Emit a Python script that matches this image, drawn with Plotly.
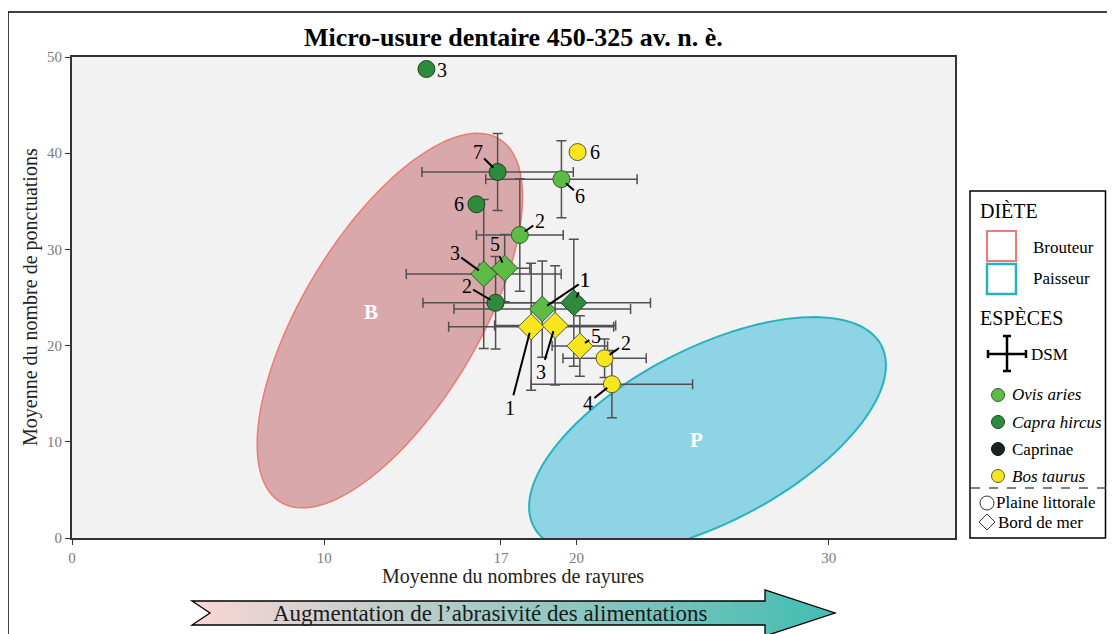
import numpy as np
import plotly.graph_objects as go

# ---------------- data ----------------
X_TICKS = [0, 10, 17, 20, 30]
Y_TICKS = [0, 10, 20, 30, 40, 50]

ovis_labels = ["6", "2", "3", "5", "1"]
ovis_site = ["P", "P", "M", "M", "M"]          # P = Plaine littorale, M = Bord de mer
ovis_x = [19.4, 17.75, 16.32, 17.15, 18.64]
ovis_y = [37.3, 31.5, 27.45, 28.05, 23.8]
ovis_xerr = [3.0, 1.72, 3.07, 1.0, 3.5]
ovis_yerr = [4.0, 5.85, 7.75, 3.5, 5.0]

capra_labels = ["3", "7", "6", "2", "1"]
capra_site = ["P", "P", "P", "P", "M"]
capra_x = [14.05, 16.87, 16.03, 16.79, 19.89]
capra_y = [48.75, 38.05, 34.69, 24.45, 24.45]
capra_xerr = [None, 3.0, None, 2.88, 3.04]
capra_yerr = [None, 4.0, None, 4.8, 6.6]

bos_labels = ["6", "2", "4", "5", "1", "3"]
bos_site = ["P", "P", "P", "M", "M", "M"]
bos_x = [20.04, 21.11, 21.4, 20.13, 18.2, 19.15]
bos_y = [40.12, 18.68, 15.99, 19.96, 21.95, 22.1]
bos_xerr = [None, 1.65, 3.2, 1.1, 3.27, 2.4]
bos_yerr = [None, 2.0, 3.5, 3.15, 6.6, 6.2]

# label offsets (pixels): dx, dy, leader line
ovis_lab = [(19, 17, True), (20, -14, True), (-29, -21, True), (-10, -24, True), (43, -29, True)]
capra_lab = [(16, 1, False), (-20, -20, True), (-17, 0, False), (-29, -17, True), (11, -23, True)]
bos_lab = [(17, 0, False), (21, -15, True), (-24, 19, True), (16, -10, True), (-21, 81, True), (-14, 47, True)]

X_RANGE = [0, 35]
Y_RANGE = [0, 50]

# ellipses (centre in data units, semi-axes in pixels, angle in degrees)
ELL_B = dict(cx=12.6, cy=22.6, a=212, b=88, ang=59.0)
ELL_P = dict(cx=25.19, cy=10.6, a=196, b=87, ang=27.5)

# ---------------- geometry helpers ----------------
OFF = 8                      # page body margin
W, H = 1115 - OFF, 634 - OFF
L, R, T, B = 72, 955, 57, 538   # plot area in window pixels
SERIF = "Liberation Serif"


def px(x):
    return (x - L) / (R - L)


def py(y):
    return (B - y) / (B - T)


def d2p(xd, yd):
    return (L + (xd - X_RANGE[0]) / (X_RANGE[1] - X_RANGE[0]) * (R - L),
            B - (yd - Y_RANGE[0]) / (Y_RANGE[1] - Y_RANGE[0]) * (B - T))


def p2d(xp, yp):
    return (X_RANGE[0] + (xp - L) / (R - L) * (X_RANGE[1] - X_RANGE[0]),
            Y_RANGE[0] + (B - yp) / (B - T) * (Y_RANGE[1] - Y_RANGE[0]))


def ellipse_path(e):
    cxp, cyp = d2p(e["cx"], e["cy"])
    th = np.radians(e["ang"])
    t = np.linspace(0, 2 * np.pi, 120)
    xp = cxp + e["a"] * np.cos(t) * np.cos(th) - e["b"] * np.sin(t) * np.sin(th)
    yp = cyp - (e["a"] * np.cos(t) * np.sin(th) + e["b"] * np.sin(t) * np.cos(th))
    pts = [p2d(a, b) for a, b in zip(xp, yp)]
    return "M " + " L ".join(f"{a:.4f},{b:.4f}" for a, b in pts) + " Z"


def ppath(points, close=True):
    s = "M " + " L ".join(f"{px(a):.5f},{py(b):.5f}" for a, b in points)
    return s + (" Z" if close else "")


fig = go.Figure()

species = [
    ("ovis", ovis_x, ovis_y, ovis_xerr, ovis_yerr, ovis_site, ovis_labels, ovis_lab, "#5DBB46", "#2E5E2A"),
    ("capra", capra_x, capra_y, capra_xerr, capra_yerr, capra_site, capra_labels, capra_lab, "#2F8A3E", "#1B4521"),
    ("bos", bos_x, bos_y, bos_xerr, bos_yerr, bos_site, bos_labels, bos_lab, "#F7E61E", "#5A5A3A"),
]

annotations = []

# error bars first (drawn beneath markers)
for name, xs, ys, xe, ye, site, labs, offs, col, edge in species:
    idx = [i for i in range(len(xs)) if xe[i] is not None]
    if idx:
        fig.add_trace(go.Scatter(
            x=[xs[i] for i in idx], y=[ys[i] for i in idx], mode="markers",
            marker=dict(size=1, color="rgba(0,0,0,0)"),
            error_x=dict(type="data", array=[xe[i] for i in idx], color="#505050", thickness=1.5, width=5),
            error_y=dict(type="data", array=[ye[i] for i in idx], color="#505050", thickness=1.5, width=5),
            showlegend=False, hoverinfo="skip"))

for name, xs, ys, xe, ye, site, labs, offs, col, edge in species:
    for sym, code, size in [("P", "circle", 17), ("M", "diamond", 20)]:
        idx = [i for i in range(len(xs)) if site[i] == sym]
        if not idx:
            continue
        fig.add_trace(go.Scatter(
            x=[xs[i] for i in idx], y=[ys[i] for i in idx], mode="markers",
            marker=dict(symbol=code, size=size, color=col, line=dict(color=edge, width=1)),
            showlegend=False))
    for i in range(len(xs)):
        dx, dy, lead = offs[i]
        if lead:
            annotations.append(dict(x=xs[i], y=ys[i], xref="x", yref="y", text=labs[i],
                                    showarrow=True, arrowhead=0, arrowwidth=2, arrowcolor="black",
                                    ax=dx, ay=dy, standoff=6,
                                    font=dict(family=SERIF, size=20, color="black")))
        else:
            annotations.append(dict(x=xs[i], y=ys[i], xref="x", yref="y", text=labs[i],
                                    showarrow=False, xshift=dx, yshift=-dy,
                                    font=dict(family=SERIF, size=20, color="black")))

shapes = []
# ellipses
shapes.append(dict(type="path", xref="x", yref="y", path=ellipse_path(ELL_B), layer="below",
                   fillcolor="#D9A8AB", line=dict(color="#EC7B73", width=1.5)))
shapes.append(dict(type="path", xref="x", yref="y", path=ellipse_path(ELL_P), layer="below",
                   fillcolor="#8FD4E5", line=dict(color="#27B3BD", width=2)))

annotations.append(dict(x=ELL_B["cx"] - 0.75, y=ELL_B["cy"] + 0.9, xref="x", yref="y", text="<b>B</b>",
                        showarrow=False, font=dict(family=SERIF, size=21, color="white")))
annotations.append(dict(x=ELL_P["cx"] - 0.45, y=ELL_P["cy"] - 0.4, xref="x", yref="y", text="<b>P</b>",
                        showarrow=False, font=dict(family=SERIF, size=21, color="white")))


def ptext(x, y, txt, size, color="#1a1a1a", anchor="center", angle=0):
    annotations.append(dict(x=px(x), y=py(y), xref="paper", yref="paper", text=txt, showarrow=False,
                            xanchor=anchor, yanchor="middle", textangle=angle,
                            font=dict(family=SERIF, size=size, color=color)))


# title and axis titles
ptext(513, 37, "<b>Micro-usure dentaire 450-325 av. n. è.</b>", 26, "black")
ptext(513, 576, "Moyenne du nombres de rayures", 20, "#222")
ptext(30, 297, "Moyenne du nombre de ponctuations", 20, "#222", angle=-90)

# outer frame
shapes.append(dict(type="line", xref="paper", yref="paper", x0=px(8), x1=px(8), y0=py(12), y1=py(660),
                   line=dict(color="black", width=1.5)))
shapes.append(dict(type="line", xref="paper", yref="paper", x0=px(8), x1=px(1130), y0=py(12), y1=py(12),
                   line=dict(color="black", width=1.5)))

# gradient arrow
AX0, AXN, AXH, AXT = 192, 210, 765, 835
ATOP, ABOT, HTOP, HBOT, AMID = 601, 625, 590, 636, 613
c0 = np.array([250, 214, 214])
c1 = np.array([66, 189, 178])

body_edges = np.linspace(AX0, AXH, 72)
for xa, xb in zip(body_edges[:-1], body_edges[1:]):
    f = (0.5 * (xa + xb) - AX0) / (AXT - AX0)
    c = c0 + (c1 - c0) * f
    xb2 = min(xb + 0.6, AXH)
    shapes.append(dict(type="path", xref="paper", yref="paper",
                       path=ppath([(xa, ATOP), (xb2, ATOP), (xb2, ABOT), (xa, ABOT)]),
                       fillcolor=f"rgb({int(c[0])},{int(c[1])},{int(c[2])})", line=dict(width=0)))
head_edges = np.linspace(AXH, AXT, 12)
for xa, xb in zip(head_edges[:-1], head_edges[1:]):
    f = (0.5 * (xa + xb) - AX0) / (AXT - AX0)
    c = c0 + (c1 - c0) * f
    xb2 = min(xb + 0.6, AXT)
    ta = HTOP + (AMID - HTOP) * (xa - AXH) / (AXT - AXH)
    tb = HTOP + (AMID - HTOP) * (xb2 - AXH) / (AXT - AXH)
    ba = HBOT - (HBOT - AMID) * (xa - AXH) / (AXT - AXH)
    bb = HBOT - (HBOT - AMID) * (xb2 - AXH) / (AXT - AXH)
    shapes.append(dict(type="path", xref="paper", yref="paper",
                       path=ppath([(xa, ta), (xb2, tb), (xb2, bb), (xa, ba)]),
                       fillcolor=f"rgb({int(c[0])},{int(c[1])},{int(c[2])})", line=dict(width=0)))
shapes.append(dict(type="path", xref="paper", yref="paper",
                   path=ppath([(AX0 - 1, ATOP - 0.5), (AXN, AMID), (AX0 - 1, ABOT + 0.5)]),
                   fillcolor="white", line=dict(width=0)))
shapes.append(dict(type="path", xref="paper", yref="paper",
                   path=ppath([(AX0, ATOP), (AXH, ATOP), (AXH, HTOP), (AXT, AMID), (AXH, HBOT),
                               (AXH, ABOT), (AX0, ABOT), (AXN, AMID)]),
                   fillcolor="rgba(0,0,0,0)", line=dict(color="black", width=1.3)))
ptext(490, 613, "Augmentation de l’abrasivité des alimentations", 23, "#1a1a1a")

# ---------------- custom legend ----------------
LX0, LX1, LY0, LY1 = 970, 1105.5, 191, 538
shapes.append(dict(type="rect", xref="paper", yref="paper", x0=px(LX0), x1=px(LX1), y0=py(LY0), y1=py(LY1),
                   fillcolor="white", line=dict(color="black", width=1.5)))


def ltext(x, y, txt, size=17):
    ptext(x, y, txt, size, "black", anchor="left")


ltext(978, 211, "DIÈTE", 20)
shapes.append(dict(type="rect", xref="paper", yref="paper", x0=px(987), x1=px(1016), y0=py(231), y1=py(261),
                   fillcolor="white", line=dict(color="#EC7B73", width=2)))
ltext(1031, 247, "Brouteur", 17)
shapes.append(dict(type="rect", xref="paper", yref="paper", x0=px(987), x1=px(1016), y0=py(264), y1=py(294),
                   fillcolor="white", line=dict(color="#27B3BD", width=2.5)))
ltext(1031, 278, "Paisseur", 17)
ltext(978, 318, "ESPÈCES", 20)
# DSM cross
for seg in [((988, 354), (1026, 354)), ((1007, 336), (1007, 371)),
            ((988, 350), (988, 358)), ((1026, 350), (1026, 358)),
            ((1003, 336), (1011, 336)), ((1003, 371), (1011, 371))]:
    shapes.append(dict(type="line", xref="paper", yref="paper", x0=px(seg[0][0]), y0=py(seg[0][1]),
                       x1=px(seg[1][0]), y1=py(seg[1][1]), line=dict(color="black", width=2.5)))
ltext(1029, 354, "DSM", 17)


def lcircle(cx, cy, r, fill, edge):
    shapes.append(dict(type="circle", xref="paper", yref="paper", x0=px(cx - r), x1=px(cx + r),
                       y0=py(cy - r), y1=py(cy + r), fillcolor=fill, line=dict(color=edge, width=1)))


leg_items = [("<i>Ovis aries</i>", "#5DBB46", "#2E5E2A", 395),
             ("<i>Capra hircus</i>", "#2F8A3E", "#1B4521", 422),
             ("Caprinae", "#16261A", "#111", 449),
             ("<i>Bos taurus</i>", "#F7E61E", "#5A5A3A", 476)]
for txt, fc, ec, yy in leg_items:
    lcircle(998, yy, 6.5, fc, ec)
    ltext(1010, yy, txt, 17)

shapes.append(dict(type="line", xref="paper", yref="paper", x0=px(971), x1=px(1115), y0=py(488), y1=py(488),
                   line=dict(color="#555", width=1.3, dash="dash")))
lcircle(987, 503, 7, "white", "#333")
ltext(994, 503, "Plaine littorale", 17)
shapes.append(dict(type="path", xref="paper", yref="paper",
                   path=ppath([(987, 514), (995, 522), (987, 530), (979, 522)]),
                   fillcolor="white", line=dict(color="#333", width=1)))
ltext(996, 522, "Bord de mer", 17)

fig.update_layout(
    width=W, height=H,
    margin=dict(l=L - OFF, r=W - (R - OFF), t=T - OFF, b=H - (B - OFF)),
    paper_bgcolor="white", plot_bgcolor="#F2F2F2",
    font=dict(family=SERIF),
    showlegend=False,
    shapes=shapes, annotations=annotations,
    xaxis=dict(range=X_RANGE, tickvals=X_TICKS, ticktext=[str(v) for v in X_TICKS],
               showgrid=False, zeroline=False, showline=True, mirror=True,
               linecolor="#333", linewidth=2, ticks="outside", ticklen=5, tickcolor="#333",
               tickfont=dict(family=SERIF, size=15, color="#7a7a7a")),
    yaxis=dict(range=Y_RANGE, tickvals=Y_TICKS, ticktext=[str(v) for v in Y_TICKS],
               showgrid=False, zeroline=False, showline=True, mirror=True,
               linecolor="#333", linewidth=2, ticks="outside", ticklen=5, tickcolor="#333",
               tickfont=dict(family=SERIF, size=15, color="#7a7a7a")),
)

fig.write_html("out.html")
